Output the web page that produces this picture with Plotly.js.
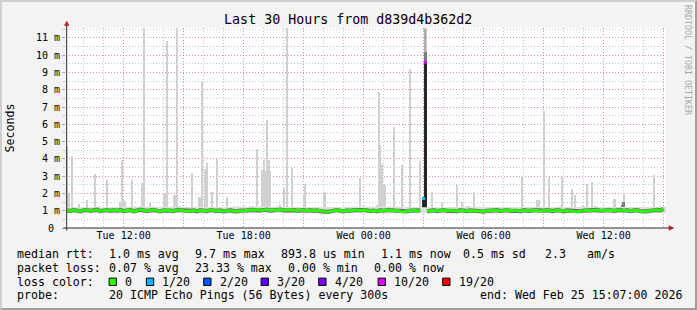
<!DOCTYPE html>
<html><head><meta charset="utf-8">
<script src="https://cdn.plot.ly/plotly-3.0.1.min.js"></script>
<style>
html,body{margin:0;padding:0;background:#f3f3f3;}
#frame{width:693px;height:306px;border-style:solid;border-width:2px;border-color:#cfcfcf #9e9e9e #9e9e9e #cfcfcf;background:#f3f3f3;}
#chart{width:693px;height:306px;}
</style></head><body><div id="frame"><div id="chart"></div></div>
<script>
// ---------------- DATA ----------------
const titleText = 'Last 30 Hours from d839d4b362d2';
const rangeStart = '2026-02-24 09:07';
const rangeEnd = '2026-02-25 15:07';
const xTickVals = ['2026-02-24 12:00','2026-02-24 15:00','2026-02-24 18:00','2026-02-24 21:00','2026-02-25 00:00','2026-02-25 03:00','2026-02-25 06:00','2026-02-25 09:00','2026-02-25 12:00','2026-02-25 15:00'];
const xTickText = ['Tue 12:00','','Tue 18:00','','Wed 00:00','','Wed 06:00','','Wed 12:00',''];
const yTickVals = [0,1,2,3,4,5,6,7,8,9,10,11];
const yTickText = ['0\u00a0','1 m','2 m','3 m','4 m','5 m','6 m','7 m','8 m','9 m','10 m','11 m'];
const yTitle = 'Seconds';
const watermark = 'RRDTOOL / TOBI OETIKER';

// median rtt (ms), 10-minute samples starting Tue 09:10
const medianStart = '2026-02-24 09:10';
const medianStepMin = 10;
const medianMs = [
 1.02,0.98,1.04,1.00,0.97,1.03,1.05,0.99,1.01,1.06,0.98,1.02,1.04,0.99,1.03,1.00,1.05,0.98,
 1.01,1.04,0.97,1.00,1.06,1.02,0.98,1.03,1.05,1.00,0.97,1.02,1.04,1.01,0.98,1.05,1.03,1.00,
 0.96,0.99,1.02,0.97,1.03,1.00,0.98,1.04,1.01,0.99,1.02,0.97,1.00,1.03,0.98,0.96,1.01,0.99,
 1.02,1.05,1.03,1.07,1.02,1.04,1.06,1.01,1.05,1.03,1.07,1.02,1.04,1.06,1.03,1.01,1.05,1.03,
 1.00,1.03,0.99,1.02,0.98,0.94,0.93,0.96,1.01,1.04,1.00,0.97,1.02,0.99,1.03,1.05,1.01,1.04,
 1.02,0.98,1.01,0.97,1.03,1.00,1.04,1.02,0.99,1.03,0.95,0.93,0.96,1.01,1.03,1.00,1.02,null,
 0.97,1.00,1.03,0.98,1.01,1.04,0.99,1.02,1.00,0.97,1.03,1.01,0.98,1.02,1.00,0.96,0.93,0.95,
 0.99,1.02,1.00,1.03,0.98,1.01,1.04,0.99,1.02,1.00,0.97,1.03,1.01,0.99,1.04,1.02,0.98,1.01,
 1.03,1.00,0.98,1.04,1.01,0.97,1.02,1.00,0.95,0.93,0.97,1.01,1.03,0.99,1.02,1.05,1.00,1.03,
 1.01,1.04,0.99,1.02,1.05,1.00,1.03,0.98,1.01,1.04,0.97,0.95,0.96,1.00,1.03,1.05,1.02,1.10
];

// median samples with packet loss
const lossTimes = ['2026-02-25 03:00','2026-02-25 03:05'];
const lossMedianMs = [1.71, 9.6];
const lossLevel = [1, 5]; // index into lossLabels

// background smoke band
const bandTimes = ['2026-02-24 09:07','2026-02-24 11:07','2026-02-24 13:07','2026-02-24 15:07','2026-02-24 17:07','2026-02-24 19:07','2026-02-24 21:07','2026-02-24 23:07','2026-02-25 01:07','2026-02-25 03:07','2026-02-25 05:07','2026-02-25 07:07','2026-02-25 09:07','2026-02-25 11:07','2026-02-25 13:07','2026-02-25 15:07'];
const bandLo = [0.86,0.85,0.87,0.86,0.84,0.86,0.85,0.87,0.86,0.85,0.86,0.87,0.85,0.86,0.86,0.85];
const bandHi = [1.22,1.20,1.24,1.21,1.23,1.26,1.21,1.23,1.24,1.20,1.21,1.22,1.23,1.21,1.22,1.23];

// light smoke (individual pings spread) per 5-minute step
const smokeTimes = [
 '2026-02-24 09:10','2026-02-24 09:15','2026-02-24 09:25','2026-02-24 09:45','2026-02-24 10:10','2026-02-24 10:35','2026-02-24 10:45','2026-02-24 11:10',
 '2026-02-24 11:50','2026-02-24 11:55','2026-02-24 12:00','2026-02-24 12:05','2026-02-24 12:25','2026-02-24 12:35','2026-02-24 12:55','2026-02-24 13:00',
 '2026-02-24 13:20','2026-02-24 14:00','2026-02-24 14:05','2026-02-24 14:10','2026-02-24 14:30','2026-02-24 14:35','2026-02-24 14:40','2026-02-24 14:50',
 '2026-02-24 15:25','2026-02-24 15:45','2026-02-24 15:50','2026-02-24 15:55','2026-02-24 16:05','2026-02-24 16:10','2026-02-24 16:25','2026-02-24 16:40',
 '2026-02-24 17:10','2026-02-24 17:35','2026-02-24 18:40','2026-02-24 18:55','2026-02-24 19:00','2026-02-24 19:05','2026-02-24 19:10','2026-02-24 19:15',
 '2026-02-24 19:20','2026-02-24 19:50','2026-02-24 20:00','2026-02-24 20:10','2026-02-24 20:25','2026-02-24 21:00','2026-02-24 21:05','2026-02-24 22:00',
 '2026-02-24 22:05','2026-02-24 23:50','2026-02-25 00:40','2026-02-25 00:45','2026-02-25 00:50','2026-02-25 00:55','2026-02-25 01:00','2026-02-25 01:05',
 '2026-02-25 01:30','2026-02-25 01:55','2026-02-25 02:20','2026-02-25 02:50','2026-02-25 03:25','2026-02-25 03:55','2026-02-25 04:40',
 '2026-02-25 04:55','2026-02-25 05:10','2026-02-25 05:15','2026-02-25 05:30','2026-02-25 07:55','2026-02-25 08:40','2026-02-25 08:45','2026-02-25 09:00',
 '2026-02-25 09:15','2026-02-25 09:50','2026-02-25 09:55','2026-02-25 10:25','2026-02-25 10:35','2026-02-25 10:45','2026-02-25 10:55','2026-02-25 11:00',
 '2026-02-25 11:10','2026-02-25 11:25','2026-02-25 11:35','2026-02-25 12:05','2026-02-25 12:30','2026-02-25 12:35','2026-02-25 13:00','2026-02-25 13:25',
 '2026-02-25 14:30','2026-02-25 14:50'
];
const smokeHi = [
 4.7,2.0,4.18,1.4,1.64,3.14,1.3,2.79, 1.5,3.95,1.6,1.5,2.79,1.3,2.6,12,
 1.47,2.0,2.0,10.8,1.9,1.9,12,1.3, 3.2,1.77,1.77,8.45,3.4,3.75,2.1,4.0,
 1.8,1.3,4.56,3.36,3.95,3.3,6.26,3.95, 3.3,1.4,2.3,12,3.5,2.0,2.54,2.1,
 2.1,2.89,1.35,7.9,4.8,3.7,2.5,2.5, 5.84,3.62,9.2,3.9,2.1,1.45,2.5,
 1.5,1.25,1.25,2.1,3.02,1.6,1.6,6.78, 2.98,1.3,2.98,2.27,1.92,1.2,1.3,1.3,
 2.54,2.68,1.3,1.2,1.7,1.7,2.0,1.2, 3.08,1.3
];
const smokeLo = smokeHi.map(() => 1.1); // smoke rises from the top of the base band
// the loss spike column (03:05): upper smoke range (reaches the top of the graph)
const spikeTime = '2026-02-25 03:05';
const spikeUpper = [10.2, 11.55];
// medium-grey smoke
const midTimes = ['2026-02-25 03:05','2026-02-25 12:55','2026-02-25 13:00'];
const midLo = [9.6, 1.05, 1.05];
const midHi = [10.2, 1.35, 1.5];
// dense (dark) smoke
const coreTimes = ['2026-02-25 03:00','2026-02-25 03:05'];
const coreLo = [1.0, 1.05];
const coreHi = [1.65, 9.6];

// legend texts
const rowLabels = ['median rtt:','packet loss:','loss color:','probe:'];
const rttStats = ['1.0 ms avg','9.7 ms max','893.8 us min','1.1 ms now','0.5 ms sd','2.3','am/s'];
const lossStats = ['0.07 % avg','23.33 % max','0.00 % min','0.00 % now'];
const lossLabels = ['0','1/20','2/20','3/20','4/20','10/20','19/20'];
const lossColors = ['#26ff00','#00b8ff','#0059ff','#5e00ff','#7e00ff','#dd00ff','#ff0000'];
const probeText = '20 ICMP Echo Pings (56 Bytes) every 300s';
const endText = 'end: Wed Feb 25 15:07:00 2026';

// ---------------- LAYOUT GEOMETRY ----------------
const FW = 693, FH = 306;
const L = 63.6, T = 26, W = 600, H = 200.3;
const X = p => (p - 2 - L) / W;      // page px -> paper x
const Y = p => 1 - (p - 2 - T) / H;  // page px -> paper y
const MONO = 'DejaVu Sans Mono, monospace';
const nb = s => s.replace(/ /g, '\u00a0');

const rowY = [254.3, 268.3, 282.3, 295.7];
const labelX = 16;
const rttX = [107.3, 193.3, 279.7, 379.3, 461.7, 543.3, 586];
const lossX = [107.3, 193.3, 286.7, 372.7];
const boxX = [108.7, 146, 203.3, 260.7, 318.3, 377.7, 442.3];
const boxLabelX = [123.3, 160.7, 218.3, 276, 333.3, 392.7, 457.3];
const probeX = 107.3, endX = 478.3;

// ---------------- TRACES ----------------
const STEP = 300000;
const t0 = new Date(medianStart.replace(' ', 'T') + 'Z').getTime();
const pad = n => String(n).padStart(2, '0');
const fmt = ms => { const d = new Date(ms); return d.getUTCFullYear() + '-' + pad(d.getUTCMonth()+1) + '-' + pad(d.getUTCDate()) + ' ' + pad(d.getUTCHours()) + ':' + pad(d.getUTCMinutes()); };
const medianTimes = medianMs.map((_, i) => fmt(t0 + i * medianStepMin * 60000));

const barTrace = (xs, lo, hi, color, w) => ({
  type: 'bar', x: xs, base: lo, y: hi.map((v, i) => v - lo[i]), width: w,
  marker: { color: color, line: { width: 0 } }, hoverinfo: 'skip', showlegend: false
});

const traces = [
  { type: 'scatter', mode: 'lines', x: bandTimes, y: bandLo, line: { width: 0, shape: 'spline' }, hoverinfo: 'skip', showlegend: false },
  { type: 'scatter', mode: 'lines', x: bandTimes, y: bandHi, fill: 'tonexty', fillcolor: '#e0e0e0', line: { width: 0, shape: 'spline' }, hoverinfo: 'skip', showlegend: false },
  barTrace(smokeTimes, smokeLo, smokeHi, '#d0d0d0', STEP * 1.1),
  barTrace(midTimes, midLo, midHi, '#7c7c7c', STEP * 1.5),
  barTrace(coreTimes, coreLo, coreHi, '#262626', STEP * 1.5),
  { type: 'scatter', mode: 'lines', x: medianTimes, y: medianMs, connectgaps: false, line: { color: '#6e6e6e', width: 4.2 }, hoverinfo: 'skip', showlegend: false },
  { type: 'scatter', mode: 'lines', x: medianTimes, y: medianMs, connectgaps: false, line: { color: lossColors[0], width: 2.8 }, hoverinfo: 'skip', showlegend: false },
  { type: 'scatter', mode: 'lines', x: [spikeTime, spikeTime], y: spikeUpper, cliponaxis: false, line: { color: '#ababab', width: 2.6 }, hoverinfo: 'skip', showlegend: false },
  { type: 'scatter', mode: 'markers', x: lossTimes, y: lossMedianMs, marker: { symbol: 'square', size: 3, color: lossLevel.map(k => lossColors[k]), line: { width: 0 } }, hoverinfo: 'skip', showlegend: false }
];

// ---------------- ANNOTATIONS & SHAPES ----------------
const ann = [];
const txt = (x, y, s, opts) => ann.push(Object.assign({ xref: 'paper', yref: 'paper', x: X(x), y: Y(y), text: nb(s), showarrow: false, xanchor: 'left', yanchor: 'middle', borderpad: 0, font: { family: MONO, size: 11.6, color: '#000' } }, opts || {}));
rowLabels.forEach((s, i) => txt(labelX, rowY[i], s));
rttStats.forEach((s, i) => txt(rttX[i], rowY[0], s));
lossStats.forEach((s, i) => txt(lossX[i], rowY[1], s));
lossLabels.forEach((s, i) => txt(boxLabelX[i], rowY[2], s));
txt(probeX, rowY[3], probeText);
txt(endX, rowY[3], endText);
// y-axis title
ann.push({ xref: 'paper', yref: 'paper', x: X(10), y: Y(128.2), text: yTitle, textangle: -90, showarrow: false, xanchor: 'center', yanchor: 'middle', font: { family: MONO, size: 11.6, color: '#000' } });
// watermark
ann.push({ xref: 'paper', yref: 'paper', x: X(687.5), y: Y(60), text: nb(watermark), textangle: 90, showarrow: false, xanchor: 'center', yanchor: 'middle', font: { family: MONO, size: 8.3, color: '#a8a8a8' } });

const shapes = [];
lossColors.forEach((c, i) => shapes.push({ type: 'rect', xref: 'paper', yref: 'paper', x0: X(boxX[i]), x1: X(boxX[i] + 7.3), y0: Y(rowY[2] - 3.8), y1: Y(rowY[2] + 3.6), fillcolor: c, line: { color: '#000', width: 1 } }));
// axis lines and arrows
const AX = '#2c2c2c', ARROW = '#b22222';
shapes.push({ type: 'line', xref: 'paper', yref: 'paper', x0: X(66.3), x1: X(66.3), y0: Y(231), y1: Y(25), line: { color: AX, width: 1 } });
shapes.push({ type: 'line', xref: 'paper', yref: 'paper', x0: X(63), x1: X(669), y0: Y(228.3), y1: Y(228.3), line: { color: AX, width: 1 } });
shapes.push({ type: 'path', xref: 'paper', yref: 'paper', path: `M ${X(63.6)} ${Y(25.8)} L ${X(69)} ${Y(25.8)} L ${X(66.3)} ${Y(20.8)} Z`, fillcolor: ARROW, line: { width: 0 } });
shapes.push({ type: 'path', xref: 'paper', yref: 'paper', path: `M ${X(668.3)} ${Y(225.5)} L ${X(668.3)} ${Y(231.1)} L ${X(674)} ${Y(228.3)} Z`, fillcolor: ARROW, line: { width: 0 } });

const MGRID = 'rgba(235,90,90,0.5)', GRID = 'rgba(150,150,150,0.55)';
const layout = {
  width: FW, height: FH,
  margin: { l: L, r: FW - L - W, t: T, b: FH - T - H, pad: 0 },
  paper_bgcolor: '#f3f3f3', plot_bgcolor: '#ffffff',
  showlegend: false, barmode: 'overlay', bargap: 0,
  title: { text: titleText, xref: 'paper', x: X(347.8), xanchor: 'center', yref: 'container', y: 1 - 17.5 / FH, yanchor: 'middle', font: { family: MONO, size: 13.3, color: '#000' } },
  xaxis: {
    type: 'date', range: [rangeStart, rangeEnd], tickmode: 'array', tickvals: xTickVals, ticktext: xTickText,
    showgrid: true, gridcolor: MGRID, griddash: '1px,2px', gridwidth: 1, zeroline: false, showline: false,
    ticks: '', tickfont: { family: MONO, size: 10, color: '#000' },
    minor: { tickmode: 'linear', tick0: '2026-02-24 09:00', dtick: 3600000, showgrid: true, gridcolor: GRID, griddash: '1px,2px', ticks: '' },
    fixedrange: true
  },
  yaxis: {
    range: [0, H / 17.3], tickmode: 'array', tickvals: yTickVals, ticktext: yTickText,
    showgrid: true, gridcolor: MGRID, griddash: '1px,2px', gridwidth: 1, zeroline: false, showline: false,
    ticks: 'outside', ticklen: 3, tickcolor: MGRID, tickfont: { family: MONO, size: 10, color: '#000' },
    minor: { tickmode: 'linear', tick0: 0, dtick: 0.5, showgrid: true, gridcolor: GRID, griddash: '1px,2px', ticks: 'outside', ticklen: 2, tickcolor: GRID },
    fixedrange: true
  },
  annotations: ann, shapes: shapes
};
Plotly.newPlot('chart', traces, layout, { staticPlot: true, displayModeBar: false });
</script></body></html>
